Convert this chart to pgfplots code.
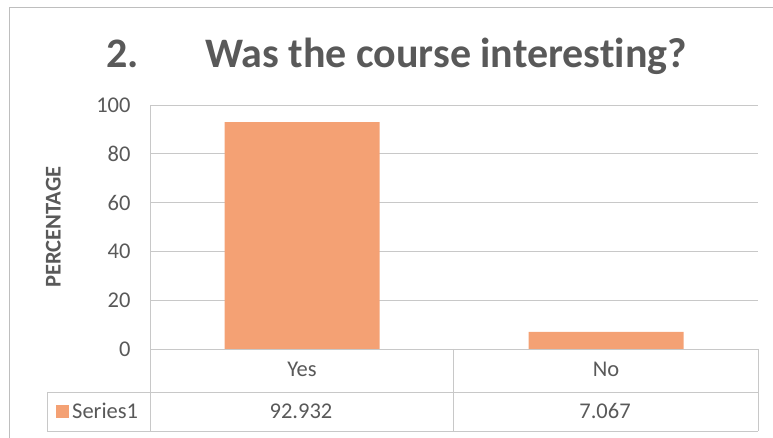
\documentclass[border=0pt]{standalone}
\usepackage{pgfplots}
\pgfplotsset{compat=1.18}
\usepackage{fontspec}
\setmainfont{Carlito}[Ligatures={NoCommon}]
\definecolor{barc}{RGB}{244,161,116}
\definecolor{txt}{RGB}{89,89,89}
\definecolor{gridc}{RGB}{200,200,200}
\definecolor{framec}{RGB}{190,190,190}
\begin{document}
\begin{tikzpicture}[x=1pt,y=1pt]
\path[use as bounding box] (0,0) rectangle (773,438);
% outer chart frame
\draw[framec,line width=0.8pt] (9,-5) -- (9,431) -- (780,431);
% title
\node[anchor=base west,text=txt,font=\fontsize{42}{48}\selectfont\bfseries,inner sep=0pt] at (106,370) {2.};
\node[anchor=base,text=txt,font=\fontsize{42}{48}\selectfont\bfseries,inner sep=0pt] at (446,370) {Was the course interesting?};
\begin{axis}[
  at={(150pt,89pt)}, anchor=south west,
  scale only axis, width=608pt, height=244pt,
  xmin=-0.5, xmax=1.5, ymin=0, ymax=100,
  ytick={0,20,40,60,80,100},
  xtick={0,1}, xticklabels={Yes,No},
  ymajorgrids, grid style={gridc,line width=0.6pt},
  axis line style={draw=none},
  axis x line*=bottom,
  x axis line style={draw=gridc,line width=0.6pt},
  axis y line*=left,
  y axis line style={draw=gridc,line width=0.6pt},
  major tick length=0pt,
  tick label style={text=txt,font=\fontsize{22.5}{26}\selectfont},
  /pgf/number format/assume math mode=true,
  yticklabel style={xshift=-16pt},
  xticklabel style={yshift=-10pt},
  ylabel={PERCENTAGE},
  ylabel style={at={(axis description cs:-0.159,0.5)},anchor=center,text=txt,font=\fontsize{22.5}{26}\selectfont\bfseries},
  clip=false,
]
\addplot[ybar, bar width=155pt, fill=barc, draw=none] coordinates {(0,92.932) (1,7.067)};
\end{axis}
% data table
\begin{scope}[gridc,line width=0.6pt]
\draw (150,89) -- (150,7) (453,89) -- (453,7) (758,89) -- (758,7);
\draw (47,46) -- (758,46);
\draw (47,7) -- (758,7);
\draw (47,46) -- (47,7);
\end{scope}
\fill[barc] (56,20) rectangle (69,33);
\node[anchor=west,text=txt,font=\fontsize{22.5}{26}\selectfont,inner sep=0pt] at (72,27) {Series1};
\node[text=txt,font=\fontsize{22.5}{26}\selectfont] at (301,27) {92.932};
\node[text=txt,font=\fontsize{22.5}{26}\selectfont] at (605,27) {7.067};
\end{tikzpicture}
\end{document}
